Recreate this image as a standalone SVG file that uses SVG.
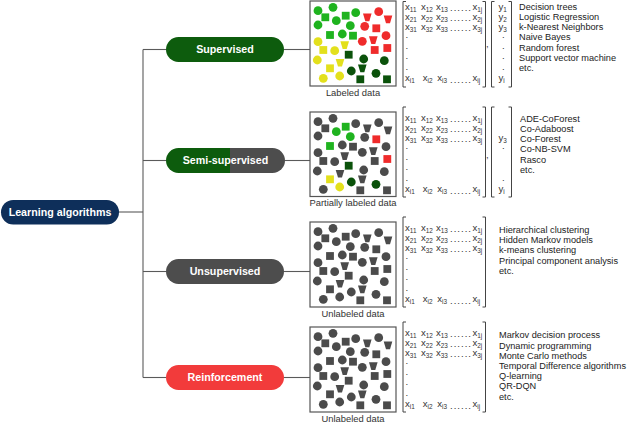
<svg xmlns="http://www.w3.org/2000/svg" xmlns:xlink="http://www.w3.org/1999/xlink" width="630" height="426" viewBox="0 0 630 426">
<style>
text{font-family:"Liberation Sans",Arial,sans-serif;fill:#222}
.pt{font-size:10.7px;font-weight:bold;fill:#fff}
.lab{font-size:9.4px;fill:#333}
.alg{font-size:9.2px;fill:#222}
.mx{font-size:9.6px;fill:#333}
.sb{font-size:6.4px}
.dt{font-size:9.6px;letter-spacing:1px;fill:#333}
.conn{stroke:#5a5a5a;stroke-width:1.1;fill:none}
.box{fill:#fff;stroke:#555;stroke-width:1.2}
.br{fill:none;stroke:#444;stroke-width:1}
.G{fill:#1fb31f}.R{fill:#ef2b2b}.Y{fill:#e3e01c}.D{fill:#0b520b}.K{fill:#4b4b4b}
</style>
<defs>
<linearGradient id="semi" x1="0" y1="0" x2="1" y2="0">
<stop offset="0.535" stop-color="#0d5c0d"/><stop offset="0.535" stop-color="#4d4d4d"/>
</linearGradient>
<circle id="c" r="4.4"/>
<rect id="s" x="-3.9" y="-3.9" width="7.8" height="7.8"/>
<path id="t" d="M-4.3,-3.8 H4.3 L2,3.9 H-2 Z"/>
<g id="xmat">
<text class="mx" x="405" y="8.5">x<tspan class="sb" dy="2.4">11</tspan></text>
<text class="mx" x="421" y="8.5">x<tspan class="sb" dy="2.4">12</tspan></text>
<text class="mx" x="436" y="8.5">x<tspan class="sb" dy="2.4">13</tspan></text>
<text class="dt" x="450" y="10">......</text>
<text class="mx" x="472.5" y="8.5">x<tspan class="sb" dy="2.4">1j</tspan></text>
<text class="mx" x="405" y="18.5">x<tspan class="sb" dy="2.4">21</tspan></text>
<text class="mx" x="421" y="18.5">x<tspan class="sb" dy="2.4">22</tspan></text>
<text class="mx" x="436" y="18.5">x<tspan class="sb" dy="2.4">23</tspan></text>
<text class="dt" x="450" y="20">......</text>
<text class="mx" x="472.5" y="18.5">x<tspan class="sb" dy="2.4">2j</tspan></text>
<text class="mx" x="405" y="28.5">x<tspan class="sb" dy="2.4">31</tspan></text>
<text class="mx" x="421" y="28.5">x<tspan class="sb" dy="2.4">32</tspan></text>
<text class="mx" x="436" y="28.5">x<tspan class="sb" dy="2.4">33</tspan></text>
<text class="dt" x="450" y="30">......</text>
<text class="mx" x="472.5" y="28.5">x<tspan class="sb" dy="2.4">3j</tspan></text>
<text class="mx" x="405.5" y="37">.</text>
<text class="mx" x="405.5" y="47.7">.</text>
<text class="mx" x="405.5" y="58.3">.</text>
<text class="mx" x="405.5" y="69">.</text>
<text class="mx" x="405" y="80">x<tspan class="sb" dy="2.4">i1</tspan></text>
<text class="mx" x="422.7" y="80">x<tspan class="sb" dy="2.4">i2</tspan></text>
<text class="mx" x="437.3" y="80">x<tspan class="sb" dy="2.4">i3</tspan></text>
<text class="dt" x="450" y="82">......</text>
<text class="mx" x="472.5" y="80">x<tspan class="sb" dy="2.4">ij</tspan></text>
</g>
<g id="shapes">
<use href="#c" x="8" y="9.7"/>
<use href="#c" x="23" y="6.3"/>
<use href="#s" x="15.3" y="16.3"/>
<use href="#c" x="26.3" y="19.7"/>
<use href="#s" x="35.7" y="14.7"/>
<use href="#c" x="45.7" y="11.7"/>
<use href="#c" x="8" y="24"/>
<use href="#c" x="40.3" y="24.7"/>
<use href="#s" x="20" y="34"/>
<use href="#c" x="32.3" y="33"/>
<use href="#s" x="43" y="34.7"/>
<use href="#t" x="57.3" y="16.3"/>
<use href="#c" x="68.7" y="10.7"/>
<use href="#t" x="78" y="18.3"/>
<use href="#c" x="54.7" y="25.3"/>
<use href="#s" x="66.3" y="27.3"/>
<use href="#c" x="76" y="34.7"/>
<use href="#c" x="52.3" y="40.3"/>
<use href="#t" x="63.3" y="39"/>
<use href="#s" x="77.3" y="47"/>
<use href="#s" x="64.7" y="49"/>
<use href="#c" x="8" y="40.7"/>
<use href="#s" x="13.3" y="49"/>
<use href="#c" x="24.7" y="49.7"/>
<use href="#t" x="34.7" y="44"/>
<use href="#c" x="7.3" y="59"/>
<use href="#t" x="30" y="61.7"/>
<use href="#s" x="20" y="67.3"/>
<use href="#c" x="29.7" y="75"/>
<use href="#c" x="13.3" y="77.3"/>
<use href="#s" x="38.7" y="53.7"/>
<use href="#c" x="53.7" y="58"/>
<use href="#c" x="74.3" y="59.7"/>
<use href="#c" x="41.3" y="70"/>
<use href="#t" x="52.3" y="67.3"/>
<use href="#c" x="66" y="72.3"/>
<use href="#s" x="50.3" y="78.3"/>
<use href="#s" x="77" y="78.3"/>
</g>
</defs>

<g id="connectors" class="conn">
<path d="M119,212 H143"/>
<path d="M143,49.5 V377.5"/>
<path d="M143,49.5 H166"/>
<path d="M143,160.5 H166"/>
<path d="M143,271.5 H166"/>
<path d="M143,377.5 H166"/>
<path d="M284,49.5 H310"/>
<path d="M285,160.5 H310"/>
<path d="M284,271.5 H310"/>
<path d="M284,377.5 H310"/>
</g>

<g id="learning">
<rect x="1" y="200" width="118" height="24.5" rx="12.2" fill="#0e2f5a"/>
<text class="pt" x="60" y="216" text-anchor="middle">Learning algorithms</text>
</g>
<g id="supervised">
<rect x="166" y="37" width="118" height="25" rx="12.5" fill="#0d5c0d"/>
<text class="pt" x="225" y="53.3" text-anchor="middle">Supervised</text>
</g>
<g id="semi-supervised">
<rect x="166" y="148" width="119" height="25" rx="12.5" fill="url(#semi)"/>
<text class="pt" x="225.5" y="164.3" text-anchor="middle">Semi-supervised</text>
</g>
<g id="unsupervised">
<rect x="166" y="259" width="118" height="25" rx="12.5" fill="#4d4d4d"/>
<text class="pt" x="225" y="275.3" text-anchor="middle">Unsupervised</text>
</g>
<g id="reinforcement">
<rect x="166" y="365" width="118" height="25" rx="12.5" fill="#f23b3b"/>
<text class="pt" x="225" y="381.3" text-anchor="middle">Reinforcement</text>
</g>

<!-- Supervised data -->
<g id="data-supervised">
<rect class="box" x="310" y="1" width="86" height="85"/>
<g transform="translate(310,1)">
<g class="G"><use href="#c" x="8" y="9.7"/><use href="#c" x="23" y="6.3"/><use href="#s" x="15.3" y="16.3"/><use href="#c" x="26.3" y="19.7"/><use href="#s" x="35.7" y="14.7"/><use href="#c" x="45.7" y="11.7"/><use href="#c" x="8" y="24"/><use href="#c" x="40.3" y="24.7"/><use href="#s" x="20" y="34"/><use href="#c" x="32.3" y="33"/><use href="#s" x="43" y="34.7"/></g>
<g class="R"><use href="#t" x="57.3" y="16.3"/><use href="#c" x="68.7" y="10.7"/><use href="#t" x="78" y="18.3"/><use href="#c" x="54.7" y="25.3"/><use href="#s" x="66.3" y="27.3"/><use href="#c" x="76" y="34.7"/><use href="#c" x="52.3" y="40.3"/><use href="#t" x="63.3" y="39"/><use href="#s" x="77.3" y="47"/><use href="#s" x="64.7" y="49"/></g>
<g class="Y"><use href="#c" x="8" y="40.7"/><use href="#s" x="13.3" y="49"/><use href="#c" x="24.7" y="49.7"/><use href="#t" x="34.7" y="44"/><use href="#c" x="7.3" y="59"/><use href="#t" x="30" y="61.7"/><use href="#s" x="20" y="67.3"/><use href="#c" x="29.7" y="75"/><use href="#c" x="13.3" y="77.3"/></g>
<g class="D"><use href="#s" x="38.7" y="53.7"/><use href="#c" x="53.7" y="58"/><use href="#c" x="74.3" y="59.7"/><use href="#c" x="41.3" y="70"/><use href="#t" x="52.3" y="67.3"/><use href="#c" x="66" y="72.3"/><use href="#s" x="50.3" y="78.3"/><use href="#s" x="77" y="78.3"/></g>
</g>
<text class="lab" x="353" y="95.5" text-anchor="middle">Labeled data</text>
<path class="br" d="M406,1.5 H403 V87 H406"/>
<use href="#xmat" x="0" y="1"/>
<path class="br" d="M482.5,1.5 H485.5 V87 H482.5"/>
<text class="mx" x="486" y="47">,</text>
<path class="br" d="M494.5,1.5 H491.5 V87 H494.5"/>
<path class="br" d="M508.5,1.5 H511.5 V87 H508.5"/>
<text class="mx" x="498.5" y="9.5">y<tspan class="sb" dy="2.4">1</tspan></text>
<text class="mx" x="498.5" y="19.5">y<tspan class="sb" dy="2.4">2</tspan></text>
<text class="mx" x="498.5" y="29.5">y<tspan class="sb" dy="2.4">3</tspan></text>
<text class="mx" x="502" y="38">.</text>
<text class="mx" x="502" y="48.7">.</text>
<text class="mx" x="502" y="59.3">.</text>
<text class="mx" x="502" y="70">.</text>
<text class="mx" x="498.5" y="81">y<tspan class="sb" dy="2.4">i</tspan></text>
<text class="alg" x="519" y="9.5">Decision trees</text>
<text class="alg" x="519" y="19.8">Logistic Regression</text>
<text class="alg" x="519" y="30.1">k-Nearest Neighbors</text>
<text class="alg" x="519" y="40.4">Naive Bayes</text>
<text class="alg" x="519" y="50.7">Random forest</text>
<text class="alg" x="519" y="61">Support vector machine</text>
<text class="alg" x="519" y="71.3">etc.</text>
</g>

<!-- Semi-supervised data -->
<g id="data-semi">
<rect class="box" x="310" y="112" width="86" height="84.5"/>
<g transform="translate(310,112)">
<g class="K"><use href="#c" x="8" y="9.7"/><use href="#c" x="23" y="6.3"/><use href="#s" x="15.3" y="16.3"/><use href="#c" x="45.7" y="11.7"/><use href="#c" x="8" y="24"/><use href="#c" x="32.3" y="33"/><use href="#s" x="43" y="34.7"/>
<use href="#t" x="57.3" y="16.3"/><use href="#c" x="68.7" y="10.7"/><use href="#t" x="78" y="18.3"/><use href="#c" x="54.7" y="25.3"/><use href="#c" x="76" y="34.7"/><use href="#c" x="52.3" y="40.3"/><use href="#t" x="63.3" y="39"/><use href="#s" x="64.7" y="49"/>
<use href="#c" x="8" y="40.7"/><use href="#s" x="13.3" y="49"/><use href="#c" x="24.7" y="49.7"/><use href="#t" x="34.7" y="44"/><use href="#c" x="7.3" y="59"/><use href="#t" x="30" y="61.7"/><use href="#c" x="13.3" y="77.3"/>
<use href="#c" x="53.7" y="58"/><use href="#c" x="74.3" y="59.7"/><use href="#t" x="52.3" y="67.3"/><use href="#s" x="50.3" y="78.3"/><use href="#s" x="77" y="78.3"/></g>
<g class="G"><use href="#c" x="26.3" y="19.7"/><use href="#s" x="35.7" y="14.7"/><use href="#c" x="40.3" y="24.7"/><use href="#s" x="20" y="34"/></g>
<g class="R"><use href="#s" x="66.3" y="27.3"/><use href="#s" x="77.3" y="47"/></g>
<g class="Y"><use href="#s" x="20" y="67.3"/><use href="#c" x="29.7" y="75"/></g>
<g class="D"><use href="#s" x="38.7" y="53.7"/><use href="#c" x="41.3" y="70"/><use href="#c" x="66" y="72.3"/></g>
</g>
<text class="lab" x="353" y="206" text-anchor="middle">Partially labeled data</text>
<path class="br" d="M406,107 H403 V197 H406"/>
<use href="#xmat" x="0" y="112"/>
<path class="br" d="M482.5,107 H485.5 V197 H482.5"/>
<text class="mx" x="486" y="158">,</text>
<path class="br" d="M494.5,107 H491.5 V197 H494.5"/>
<path class="br" d="M508.5,107 H511.5 V197 H508.5"/>
<text class="mx" x="498.5" y="141">y<tspan class="sb" dy="2.4">3</tspan></text>
<text class="mx" x="502" y="149">.</text>
<text class="mx" x="502" y="181">.</text>
<text class="mx" x="498.5" y="192">y<tspan class="sb" dy="2.4">i</tspan></text>
<text class="alg" x="520" y="121.7">ADE-CoForest</text>
<text class="alg" x="520" y="131.9">Co-Adaboost</text>
<text class="alg" x="520" y="142.1">Co-Forest</text>
<text class="alg" x="520" y="152.3">Co-NB-SVM</text>
<text class="alg" x="520" y="162.5">Rasco</text>
<text class="alg" x="520" y="172.7">etc.</text>
</g>

<!-- Unsupervised data -->
<g id="data-unsupervised">
<rect class="box" x="310" y="222" width="86" height="85"/>
<use href="#shapes" class="K" x="310" y="222"/>
<text class="lab" x="353" y="316.5" text-anchor="middle">Unlabeled data</text>
<path class="br" d="M406,217 H403 V307 H406"/>
<use href="#xmat" x="0" y="222"/>
<path class="br" d="M482.5,217 H485.5 V307 H482.5"/>
<text class="alg" x="499" y="233">Hierarchical clustering</text>
<text class="alg" x="499" y="243.2">Hidden Markov models</text>
<text class="alg" x="499" y="253.4">k-means clustering</text>
<text class="alg" x="499" y="263.6">Principal component analysis</text>
<text class="alg" x="499" y="273.8">etc.</text>
</g>

<!-- Reinforcement data -->
<g id="data-reinforcement">
<rect class="box" x="310" y="327" width="86" height="85"/>
<use href="#shapes" class="K" x="310" y="327"/>
<text class="lab" x="353" y="421.5" text-anchor="middle">Unlabeled data</text>
<path class="br" d="M406,322 H403 V412 H406"/>
<use href="#xmat" x="0" y="327"/>
<path class="br" d="M482.5,322 H485.5 V412 H482.5"/>
<text class="alg" x="499" y="338.3">Markov decision process</text>
<text class="alg" x="499" y="348.5">Dynamic programming</text>
<text class="alg" x="499" y="358.7">Monte Carlo methods</text>
<text class="alg" x="499" y="368.9">Temporal Difference algorithms</text>
<text class="alg" x="499" y="379.1">Q-learning</text>
<text class="alg" x="499" y="389.3">QR-DQN</text>
<text class="alg" x="499" y="399.5">etc.</text>
</g>
</svg>
